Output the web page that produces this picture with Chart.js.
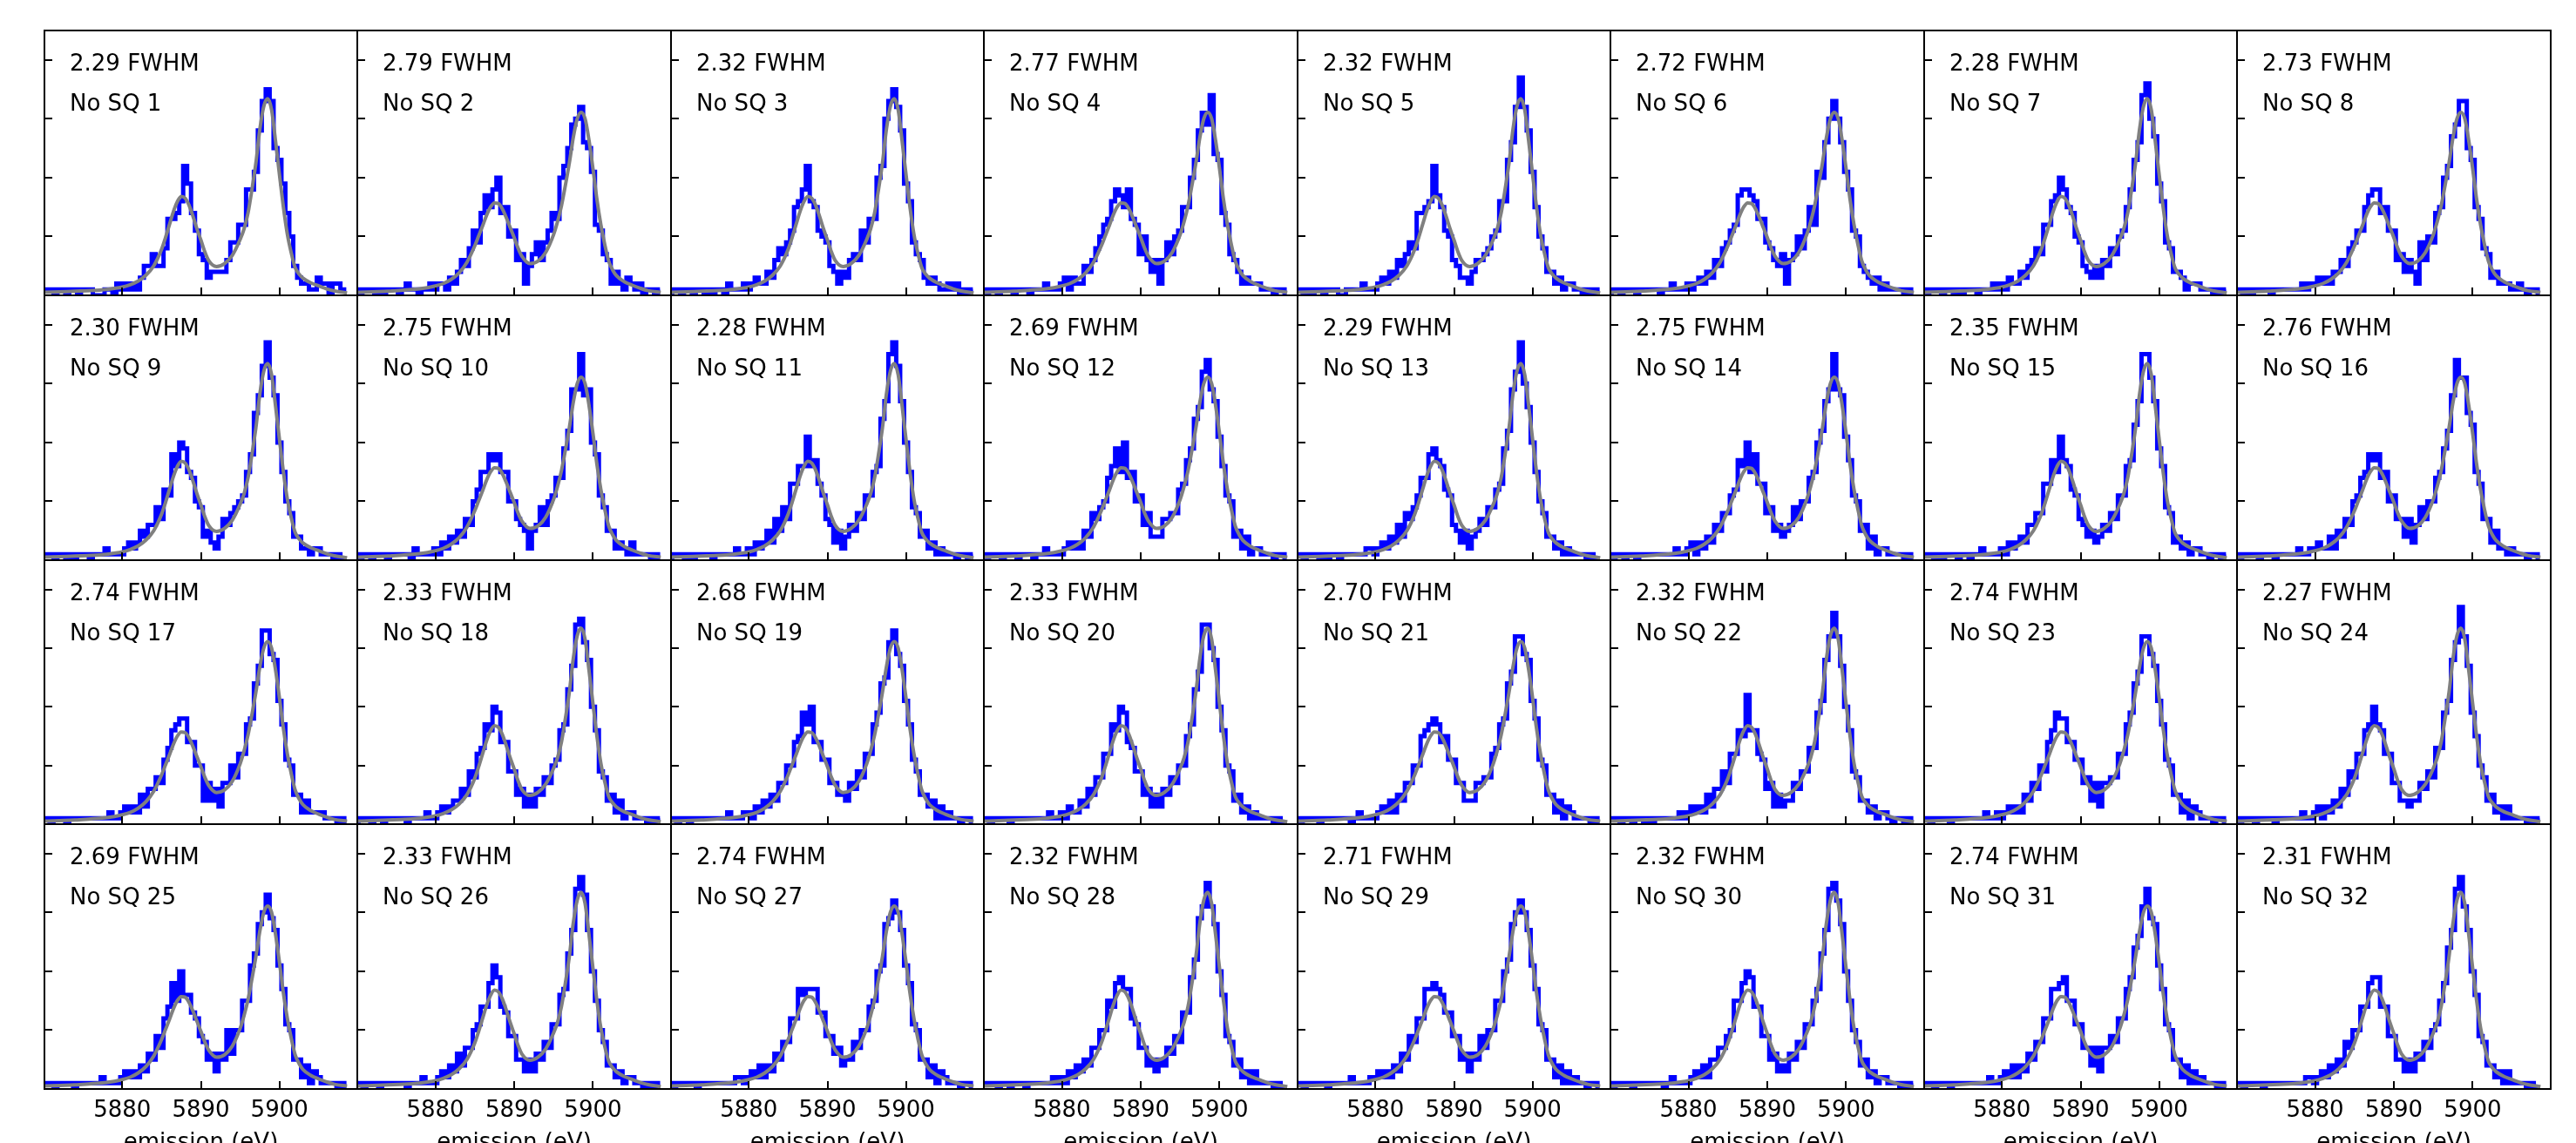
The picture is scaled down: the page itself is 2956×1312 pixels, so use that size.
<!DOCTYPE html>
<html>
<head>
<meta charset="utf-8">
<script src="https://cdn.jsdelivr.net/npm/chart.js@4.4.1/dist/chart.umd.min.js"></script>
<style>
  html, body { margin: 0; padding: 0; background: #fff; }
  body { width: 2956px; height: 1312px; overflow: hidden; position: relative; }
  canvas { position: absolute; }
</style>
</head>
<body>
<script>
// histogram bins (eV), axis range and tick positions
const binStart = 5870.0;
const binWidth = 0.5;
const xMin = 5870.1, xMax = 5909.9;
const yMin = 0, yMax = 45;
const xTicks = [5880, 5890, 5900];
const yTicks = [10, 20, 30, 40];

const fwhm = ["2.29","2.79","2.32","2.77","2.32","2.72","2.28","2.73",
              "2.30","2.75","2.28","2.69","2.29","2.75","2.35","2.76",
              "2.74","2.33","2.68","2.33","2.70","2.32","2.74","2.27",
              "2.69","2.33","2.74","2.32","2.71","2.32","2.74","2.31"];

// grey fitted line shape (narrow ~2.3 eV and wide ~2.7 eV fits)
const fitEnergy = [5870.0,5872,5874,5876,5878,5880,5881,5882,5883,5884,5885,5885.5,5886,5886.5,5887,5887.5,
                   5888,5888.5,5889,5889.5,5890,5890.5,5891,5892,5893,5894,5895,5895.5,5896,5896.5,5897,5897.5,
                   5898,5898.5,5899,5899.5,5900,5900.5,5901,5901.5,5902,5902.5,5903,5904,5905,5906,5907,5908.6];
const fitNarrow = [0.5,0.6,0.7,0.8,1.0,1.4,1.8,2.4,3.4,5.0,7.8,9.8,12.0,14.2,15.9,16.8,
                   16.5,15.3,13.4,11.3,9.4,7.4,5.9,4.9,5.4,6.8,9.5,11.3,14.0,18.0,22.5,28.2,
                   32.1,33.4,31.5,26.2,20.5,15.0,10.4,7.2,4.7,3.6,2.9,2.1,1.6,1.1,0.75,0.4];
const fitWide   = [0.5,0.6,0.7,0.9,1.1,1.6,2.0,2.7,3.8,5.6,8.4,10.1,11.8,13.6,15.0,15.7,
                   15.6,14.7,13.2,11.5,9.8,8.0,6.6,5.4,5.8,7.3,10.3,12.5,15.2,18.7,22.5,26.8,
                   30.0,31.1,30.0,26.3,21.5,16.3,12.0,8.6,5.8,4.3,3.3,2.3,1.7,1.2,0.8,0.5];

// blue histograms, counts per 0.5 eV bin starting at 5870 eV
const hist01 = [1,1,1,0,1,1,0,1,1,0,1,1,1,0,0,0,1,1,0,2,1,2,1,2,1,3,5,5,7,5,5,8,13,13,14,16,22,19,14,11,7,6,3,4,4,4,4,6,9,9,12,12,18,18,21,28,33,35,33,25,23,19,14,10,5,3,2,2,1,1,3,2,2,0,2,2,1,1];
const hist02 = [1,0,1,1,1,0,1,0,1,1,1,0,1,2,1,1,0,1,1,2,1,2,2,1,3,2,4,6,5,8,11,9,14,17,15,18,20,14,15,10,11,6,7,2,5,7,9,6,9,11,14,13,20,22,25,29,30,32,26,25,21,12,11,7,6,2,4,2,1,3,2,1,2,0,1,1,0,1];
const hist03 = [0,1,1,0,1,1,0,1,1,0,1,0,1,1,0,2,1,1,1,2,1,2,3,2,2,4,3,6,8,7,9,11,15,16,18,22,16,15,11,10,9,5,4,2,4,3,6,7,6,11,9,13,13,20,22,30,33,35,32,28,19,16,9,7,6,3,2,3,2,1,1,2,1,2,0,1,0,1];
const hist04 = [1,0,1,1,0,1,1,1,0,1,1,1,0,1,1,1,2,1,1,1,2,3,1,3,2,2,5,4,6,8,10,12,13,16,18,17,15,18,13,12,7,10,6,4,6,2,6,9,7,10,11,15,15,20,23,28,31,29,34,24,23,14,12,7,6,4,2,3,2,2,2,1,1,1,0,1,1,0];
const hist05 = [1,1,0,1,0,1,1,0,1,1,1,0,0,1,1,1,1,2,1,1,1,2,3,2,4,3,6,5,7,9,8,14,14,15,16,22,17,15,11,10,6,5,3,3,2,4,6,6,7,8,10,11,16,16,23,26,32,37,32,28,21,15,10,8,4,4,2,3,1,2,2,1,1,0,1,0,1,0];
const hist06 = [0,1,1,0,1,1,1,0,1,1,1,1,1,0,1,1,2,1,1,1,2,1,2,3,2,4,3,6,5,8,9,11,12,17,18,18,17,16,13,13,9,8,6,5,7,2,6,7,10,8,11,15,12,21,20,26,30,33,30,26,21,18,11,10,5,4,3,2,3,1,2,1,1,1,1,0,1,0];
const hist07 = [1,0,1,1,1,0,1,1,0,1,0,1,1,1,0,1,1,1,2,1,2,1,3,2,2,4,3,5,6,8,7,12,12,16,17,20,18,15,14,10,9,5,4,3,5,3,6,5,8,7,10,11,15,18,23,26,34,36,30,27,19,16,9,8,4,4,3,1,2,2,2,1,1,1,0,1,0,1];
const hist08 = [1,1,0,1,0,1,1,1,1,0,1,1,1,1,1,1,1,2,1,2,2,3,2,3,2,4,4,6,5,8,9,11,11,15,17,18,18,14,15,11,11,6,7,4,6,4,2,9,6,10,9,14,15,20,22,27,29,33,33,25,23,15,13,8,7,3,4,2,2,2,1,1,2,1,0,1,1,0];
const hist09 = [1,1,1,0,1,1,0,1,0,1,1,1,0,1,1,1,2,1,1,1,1,2,3,2,3,5,4,6,6,9,7,12,11,18,16,20,19,15,14,10,9,4,5,3,2,4,7,6,8,9,10,11,15,18,25,28,33,37,31,28,20,15,10,8,4,4,2,2,1,2,2,1,1,1,0,1,0,0];
const hist10 = [1,0,1,1,0,1,1,1,0,1,1,1,1,1,0,2,1,1,1,1,2,1,3,2,4,3,5,4,7,6,10,12,15,15,18,17,18,15,15,10,10,7,6,5,2,5,6,9,6,10,11,14,14,19,22,29,29,35,28,29,20,18,11,9,5,5,2,3,2,1,3,1,1,1,1,0,1,0];
const hist11 = [0,1,1,1,0,1,0,1,1,1,1,0,1,1,1,1,1,2,1,1,2,1,3,2,3,5,3,7,5,9,7,13,13,16,16,21,16,17,13,11,7,6,3,5,2,4,6,5,8,7,11,11,15,16,24,27,35,37,33,27,20,15,9,8,4,5,2,3,1,2,1,1,1,0,1,1,0,1];
const hist12 = [1,0,1,1,1,0,1,1,1,0,1,1,1,0,1,1,2,1,1,1,1,2,3,2,3,2,5,4,8,7,9,10,14,16,19,15,20,14,15,10,11,6,8,4,4,4,7,7,8,8,12,13,17,19,24,26,32,34,29,27,21,16,11,10,4,5,2,4,1,2,2,1,1,1,0,1,1,0];
const hist13 = [1,1,0,1,1,1,0,1,0,1,1,0,1,1,1,1,1,1,2,2,1,2,3,2,4,3,6,4,8,7,9,11,14,14,18,19,17,16,12,11,6,5,3,5,2,4,5,7,6,9,9,12,13,19,22,29,32,37,30,26,20,15,10,8,4,4,2,3,1,2,1,1,1,1,0,1,0,0];
const hist14 = [1,0,1,1,0,1,1,0,1,1,1,1,1,1,1,1,1,2,1,1,2,3,1,3,2,4,3,6,5,8,8,11,12,17,16,20,15,18,13,13,8,9,5,6,4,5,6,9,7,10,10,14,15,20,22,27,29,35,29,28,21,17,11,10,5,6,2,4,1,2,2,1,1,1,1,0,1,0];
const hist15 = [1,1,1,0,1,0,1,1,1,0,1,1,0,1,1,2,1,1,1,1,2,1,3,2,3,4,3,6,6,8,8,13,13,17,15,21,17,16,12,11,7,6,4,5,3,4,6,5,8,7,11,11,16,17,23,27,35,35,31,27,19,16,9,8,3,4,2,3,1,2,2,1,1,0,1,1,0,1];
const hist16 = [1,0,1,1,1,1,0,1,1,1,0,1,1,1,1,1,2,1,1,2,2,3,2,2,4,2,5,4,7,6,10,11,14,15,18,17,18,14,15,10,11,7,7,4,7,3,6,9,7,10,10,14,15,19,22,28,34,31,31,25,23,15,13,7,7,3,5,2,2,1,2,1,1,1,0,1,1,0];
const hist17 = [1,1,0,1,1,1,0,1,1,1,1,1,1,1,1,1,1,2,1,1,2,3,2,3,2,5,3,6,6,8,7,11,13,16,17,18,18,14,14,10,10,4,7,4,6,3,7,7,10,8,12,12,17,18,24,27,33,33,29,28,21,17,11,10,5,5,2,4,2,2,2,2,1,1,1,0,1,0];
const hist18 = [0,1,1,1,0,1,1,0,1,1,1,1,1,0,1,1,1,1,2,1,1,2,3,2,3,4,4,6,5,9,8,12,13,17,16,20,19,14,14,9,9,5,6,3,5,3,6,5,8,7,10,11,16,17,23,27,34,35,31,28,20,16,9,8,4,5,2,4,1,2,2,1,1,1,0,1,0,1];
const hist19 = [1,1,0,1,1,0,1,1,1,1,1,1,1,1,1,2,1,1,1,2,2,1,3,2,4,3,5,4,7,7,10,10,14,15,19,17,20,14,14,11,11,7,7,5,5,4,7,6,9,8,12,12,17,19,24,25,31,33,29,27,21,17,11,9,5,5,3,4,1,3,1,2,1,1,0,1,1,0];
const hist20 = [1,1,0,1,1,1,1,0,1,1,1,1,1,1,1,1,1,2,1,1,2,1,3,2,2,4,3,6,5,8,8,12,12,17,16,20,19,14,13,9,9,5,6,3,5,3,6,5,8,7,10,10,15,17,23,26,34,34,30,28,20,16,10,9,4,5,2,3,1,2,1,1,1,1,0,1,0,0];
const hist21 = [1,0,1,1,1,1,0,1,1,1,1,1,1,1,0,1,2,1,1,1,1,2,3,2,4,2,5,4,7,7,10,10,15,16,17,18,17,14,15,11,11,7,7,4,4,4,7,7,8,8,12,13,17,18,24,26,32,32,29,28,21,18,11,10,5,5,2,4,1,3,2,1,1,1,1,0,1,0];
const hist22 = [1,1,1,0,1,1,0,1,1,0,1,0,1,1,1,1,1,1,2,1,2,3,2,3,2,5,3,6,6,9,7,12,12,16,15,22,16,16,12,11,6,7,3,5,3,4,4,7,6,9,9,13,13,19,21,28,32,36,32,27,20,16,9,8,4,4,2,3,1,2,2,1,0,1,1,0,1,0];
const hist23 = [1,1,0,1,1,1,1,0,1,1,1,1,1,1,1,1,2,1,1,2,1,2,3,2,3,2,5,4,7,6,10,9,14,16,19,18,18,14,14,11,11,7,8,4,7,3,7,7,8,8,12,12,17,19,24,26,32,32,29,27,21,17,11,10,5,5,2,4,1,3,2,1,1,1,0,1,1,0];
const hist24 = [1,0,1,1,1,0,1,1,1,1,0,1,1,1,1,1,1,2,1,1,2,3,1,3,2,4,3,6,5,9,8,12,12,16,17,20,17,16,12,12,7,7,4,4,3,4,4,7,6,9,8,13,13,19,21,28,31,37,32,27,19,15,10,8,4,5,2,3,1,3,1,1,1,1,0,1,0,1];
const hist25 = [1,1,1,0,1,1,1,1,0,1,1,1,1,1,1,2,1,1,1,1,2,3,2,3,2,4,3,6,5,9,7,12,14,18,15,20,16,16,13,12,9,8,5,6,3,6,5,10,6,10,10,15,15,21,23,28,30,33,29,27,21,17,11,10,5,5,2,4,1,3,2,1,1,1,1,0,1,0];
const hist26 = [1,1,0,1,1,1,0,1,1,1,1,1,1,0,1,1,1,2,1,1,1,2,3,2,4,3,6,4,7,7,10,11,14,14,18,21,19,14,13,9,9,5,5,3,5,3,6,5,8,7,11,11,16,17,23,27,34,36,33,27,20,15,10,8,4,4,2,3,1,2,2,1,1,0,1,0,1,0];
const hist27 = [1,0,1,1,1,1,1,0,1,1,1,1,1,1,1,1,1,2,2,1,2,3,2,4,2,4,3,6,5,8,8,12,12,17,16,17,17,17,13,13,9,9,6,7,4,5,5,8,7,10,10,14,15,20,21,28,29,32,30,27,21,18,11,10,5,5,2,4,1,3,2,1,1,1,0,1,1,0];
const hist28 = [1,1,1,1,0,1,1,0,1,1,1,0,1,1,1,1,1,1,2,1,2,1,3,2,4,3,5,4,7,7,10,10,15,14,18,19,17,17,12,11,7,7,4,5,3,5,4,7,6,9,8,13,13,19,22,29,31,35,31,28,20,16,9,8,4,5,2,3,1,3,1,1,1,1,0,1,0,0];
const hist29 = [1,1,0,1,1,1,1,1,0,1,1,1,1,1,2,1,1,1,1,2,2,3,2,3,2,4,3,6,5,9,8,12,12,17,17,18,17,16,13,13,9,9,5,6,3,6,5,9,7,10,10,15,15,20,22,28,30,32,30,27,21,17,11,10,5,5,2,4,1,3,1,2,1,1,0,1,1,0];
const hist30 = [1,0,1,1,1,1,0,1,1,1,1,1,1,1,0,1,2,1,1,1,1,2,3,2,4,2,5,5,7,7,9,10,15,15,18,20,19,14,14,9,9,5,6,3,4,3,6,5,8,7,11,11,15,17,23,27,34,35,32,28,20,15,10,8,4,5,2,3,1,2,2,1,1,1,0,1,0,1];
const hist31 = [1,1,1,0,1,1,1,0,1,1,1,1,1,1,1,1,1,2,1,1,2,3,2,4,2,4,3,6,5,8,8,12,12,17,17,18,19,15,15,11,11,7,7,4,7,3,7,7,9,8,12,12,17,19,24,26,31,34,29,28,21,17,11,10,5,5,2,4,1,3,1,2,1,1,1,0,1,0];
const hist32 = [1,1,0,1,1,1,1,0,1,1,1,1,1,1,1,1,1,1,2,2,1,2,3,2,4,3,5,4,8,7,10,10,14,14,18,19,19,14,14,9,9,5,5,3,5,3,6,5,8,7,10,11,15,18,24,27,34,36,31,27,20,16,9,8,4,4,2,3,1,3,1,1,1,1,0,1,0,0];

const hists = [hist01,hist02,hist03,hist04,hist05,hist06,hist07,hist08,
               hist09,hist10,hist11,hist12,hist13,hist14,hist15,hist16,
               hist17,hist18,hist19,hist20,hist21,hist22,hist23,hist24,
               hist25,hist26,hist27,hist28,hist29,hist30,hist31,hist32];

// panel grid on the page
const gridLeft = 50.5, gridTop = 35, cellW = 359.5, cellH = 303.75;
const nCols = 8, nRows = 4;
const pad = 8;
const canvasBottom = 1330;
const fontFamily = 'DejaVu Sans';

// frame, inward tick marks and the two text lines of each panel
const panelDecor = {
  id: 'panelDecor',
  afterDatasetsDraw(chart, args, opts) {
    const { ctx, chartArea: a, scales: { x, y } } = chart;
    ctx.save();
    ctx.strokeStyle = '#000';
    ctx.lineWidth = 2;
    ctx.beginPath();
    xTicks.forEach(v => {
      const px = Math.round(x.getPixelForValue(v));
      ctx.moveTo(px, a.bottom);
      ctx.lineTo(px, a.bottom - 9);
    });
    yTicks.forEach(v => {
      const py = Math.round(y.getPixelForValue(v));
      ctx.moveTo(a.left, py);
      ctx.lineTo(a.left + 9, py);
    });
    ctx.stroke();
    ctx.strokeRect(a.left, a.top, a.right - a.left, a.bottom - a.top);
    ctx.fillStyle = '#000';
    ctx.font = '26px "' + fontFamily + '"';
    ctx.textBaseline = 'alphabetic';
    ctx.textAlign = 'left';
    ctx.fillText(opts.line1, a.left + 29, a.top + 46);
    ctx.fillText(opts.line2, a.left + 29, a.top + 92);
    ctx.restore();
  }
};

hists.forEach((h, i) => {
  const c = i % nCols, r = Math.floor(i / nCols);
  const L = Math.round(gridLeft + c * cellW), R = Math.round(gridLeft + (c + 1) * cellW);
  const T = Math.round(gridTop + r * cellH), B = Math.round(gridTop + (r + 1) * cellH);
  const last = r === nRows - 1;
  const w = R - L + 2 * pad;
  const ht = last ? canvasBottom - T + pad : B - T + 2 * pad;

  const canvas = document.createElement('canvas');
  canvas.width = w;
  canvas.height = ht;
  canvas.style.left = (L - pad) + 'px';
  canvas.style.top = (T - pad) + 'px';
  canvas.style.width = w + 'px';
  canvas.style.height = ht + 'px';
  document.body.appendChild(canvas);

  const fit = parseFloat(fwhm[i]) < 2.5 ? fitNarrow : fitWide;

  const xScale = {
    type: 'linear', min: xMin, max: xMax, display: last,
    grid: { display: false, drawTicks: false },
    border: { display: false },
    afterBuildTicks: s => { s.ticks = xTicks.map(v => ({ value: v })); },
    ticks: {
      color: '#000', font: { family: fontFamily, size: 26 }, padding: 10,
      maxRotation: 0, autoSkip: false, callback: v => String(v)
    },
    title: {
      display: true, text: 'emission (eV)', color: '#000',
      font: { family: fontFamily, size: 26 }, padding: { top: 0, bottom: 2 }
    }
  };
  // only the bottom row carries tick labels and the axis title below the frame
  if (last) xScale.afterFit = s => { s.height = canvasBottom - B; };

  new Chart(canvas, {
    type: 'line',
    data: {
      datasets: [
        {
          data: fitEnergy.map((e, k) => ({ x: e, y: fit[k] })),
          borderColor: '#808080', borderWidth: 4, pointRadius: 0,
          cubicInterpolationMode: 'monotone', clip: 0, order: 0
        },
        {
          data: h.map((v, k) => ({ x: binStart + k * binWidth, y: v })),
          borderColor: '#0000ff', borderWidth: 5, pointRadius: 0,
          stepped: 'middle', clip: 0, order: 1
        }
      ]
    },
    options: {
      responsive: false,
      animation: false,
      devicePixelRatio: 1,
      events: [],
      layout: { padding: { left: pad, right: pad, top: pad, bottom: last ? 0 : pad } },
      plugins: {
        legend: { display: false },
        tooltip: { enabled: false },
        panelDecor: { line1: fwhm[i] + ' FWHM', line2: 'No SQ ' + (i + 1) }
      },
      scales: {
        x: xScale,
        y: { type: 'linear', min: yMin, max: yMax, display: false }
      }
    },
    plugins: [panelDecor]
  });
});
</script>
</body>
</html>
